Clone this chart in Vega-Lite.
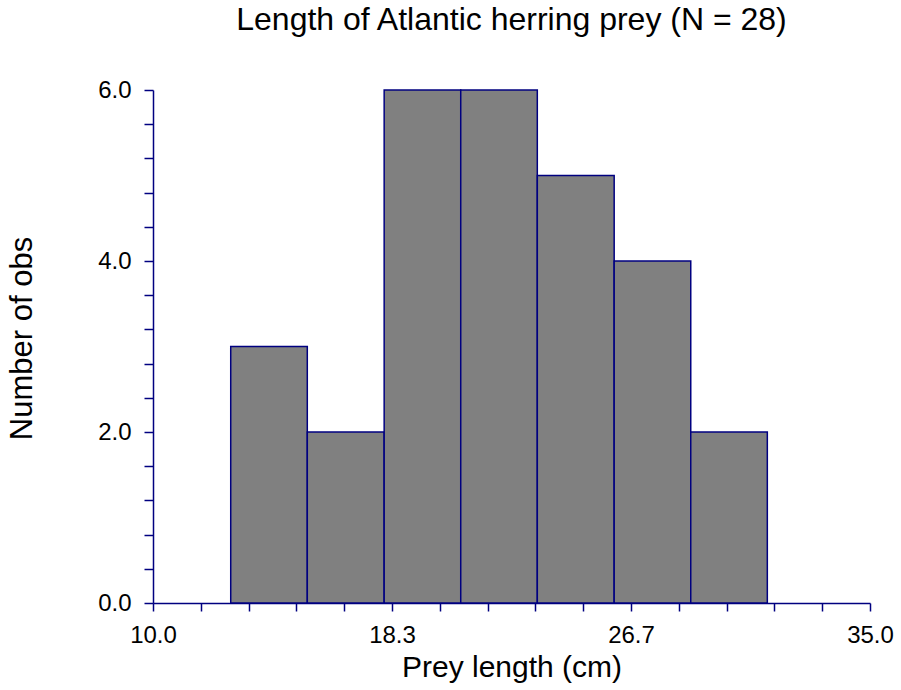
{
  "$schema": "https://vega.github.io/schema/vega-lite/v6.json",
  "autosize": {"type": "none"},
  "padding": {"left": 153, "top": 90, "right": 31, "bottom": 87},
  "width": 717,
  "height": 513,
  "background": "white",
  "title": {
    "text": "Length of Atlantic herring prey (N = 28)",
    "font": "Liberation Sans",
    "fontSize": 32,
    "fontWeight": "normal",
    "color": "black",
    "anchor": "middle",
    "baseline": "alphabetic",
    "offset": 16
  },
  "config": {
    "view": {"stroke": null},
    "axis": {
      "labelFont": "Liberation Sans",
      "titleFont": "Liberation Sans",
      "labelColor": "black",
      "titleColor": "black",
      "titleFontWeight": "normal",
      "domainColor": "#000080",
      "tickColor": "#000080",
      "domainWidth": 1.5,
      "tickWidth": 1.5,
      "grid": false,
      "labelFontSize": 24,
      "labelFlush": false,
      "labelOverlap": false
    }
  },
  "data": {
    "values": [
      {"bin_start": 12.71, "bin_end": 15.38, "count": 3},
      {"bin_start": 15.38, "bin_end": 18.06, "count": 2},
      {"bin_start": 18.06, "bin_end": 20.73, "count": 6},
      {"bin_start": 20.73, "bin_end": 23.40, "count": 6},
      {"bin_start": 23.40, "bin_end": 26.08, "count": 5},
      {"bin_start": 26.08, "bin_end": 28.75, "count": 4},
      {"bin_start": 28.75, "bin_end": 31.42, "count": 2}
    ]
  },
  "mark": {"type": "bar", "fill": "#808080", "stroke": "#000080", "strokeWidth": 1.5, "opacity": 1},
  "encoding": {
    "x": {
      "field": "bin_start",
      "type": "quantitative",
      "scale": {"domain": [10, 35], "nice": false, "zero": false},
      "axis": {
        "title": "Prey length (cm)",
        "titleFontSize": 30,
        "titlePadding": 5,
        "tickSize": 8,
        "labelPadding": 12,
        "values": [10, 11.6667, 13.3333, 15, 16.6667, 18.3333, 20, 21.6667, 23.3333, 25, 26.6667, 28.3333, 30, 31.6667, 33.3333, 35],
        "labelExpr": "abs((datum.value - 10) / (25/3) - round((datum.value - 10) / (25/3))) < 0.01 ? format(datum.value, '.1f') : ''"
      }
    },
    "x2": {"field": "bin_end"},
    "y": {
      "field": "count",
      "type": "quantitative",
      "scale": {"domain": [0, 6], "nice": false, "padding": 0},
      "axis": {
        "title": "Number of obs",
        "titleFontSize": 31,
        "titlePadding": 59,
        "titleY": 248,
        "tickSize": 9,
        "labelPadding": 13,
        "values": [0, 0.4, 0.8, 1.2, 1.6, 2, 2.4, 2.8, 3.2, 3.6, 4, 4.4, 4.8, 5.2, 5.6, 6],
        "labelExpr": "datum.value % 2 == 0 ? format(datum.value, '.1f') : ''"
      }
    },
    "y2": {"datum": 0}
  }
}
